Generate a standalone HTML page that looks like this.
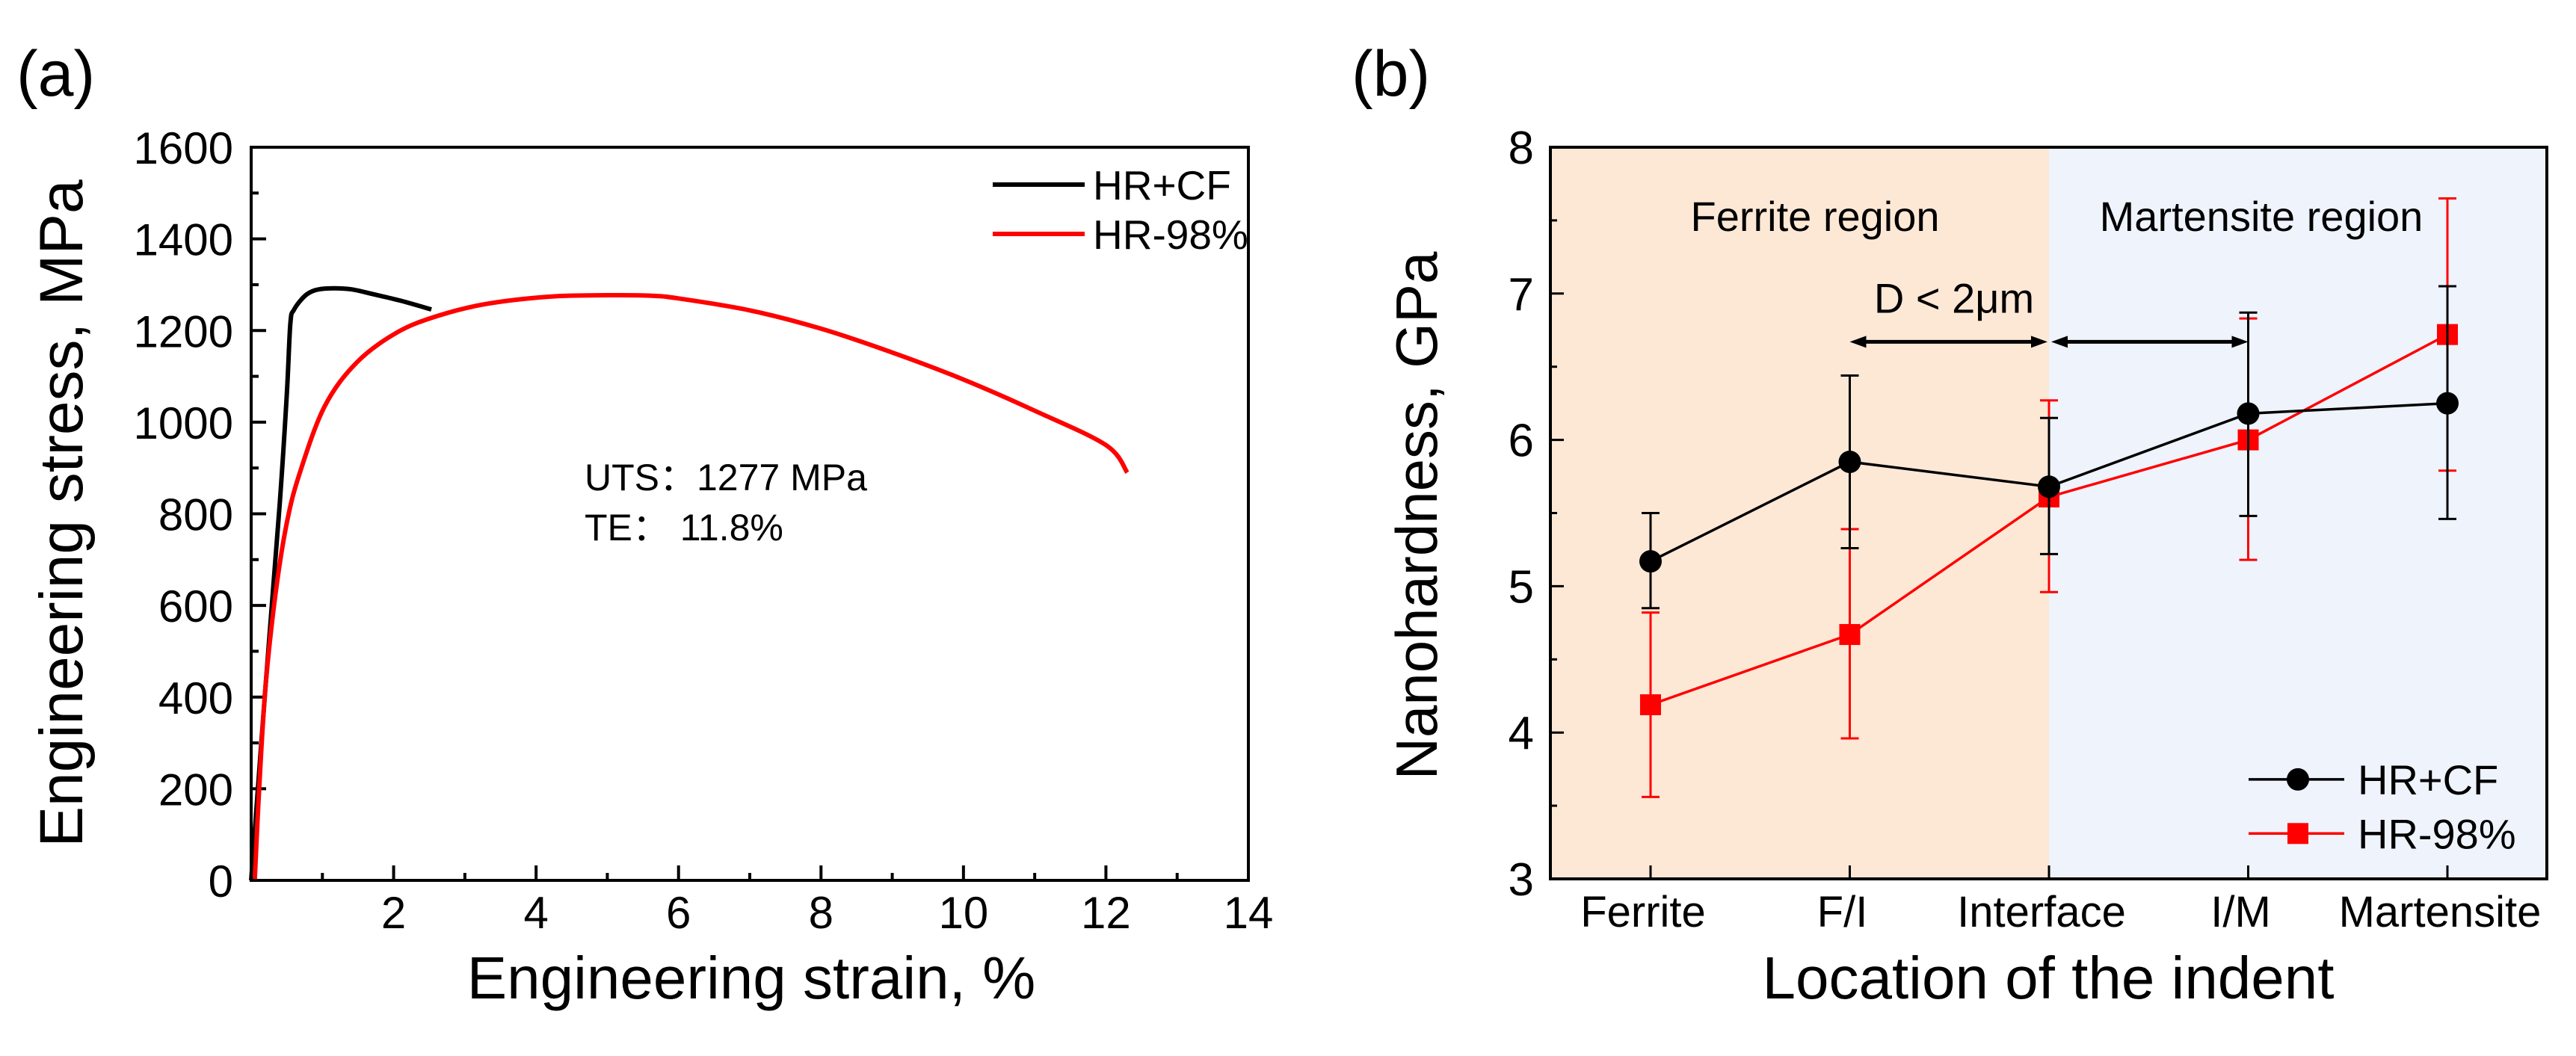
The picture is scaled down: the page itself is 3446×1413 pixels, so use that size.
<!DOCTYPE html>
<html><head><meta charset="utf-8"><style>
html,body{margin:0;padding:0;background:#fff;}
svg{display:block;font-family:"Liberation Sans",Arial,sans-serif;}
</style></head><body>
<svg id="fig" width="3446" height="1413" viewBox="0 0 3446 1413" xmlns="http://www.w3.org/2000/svg">
<g id="chartA"></g>
<g id="chartB"></g>
</svg>
<script>
// ---- Chart (a) data ----
const strainTicks = [2,4,6,8,10,12,14];
const stressTicks = [0,200,400,600,800,1000,1200,1400,1600];
const hrcfStrain = [0,0.2,0.4,0.5,0.55,0.6,0.75,0.9,1.1,1.4,1.72,2.1,2.53];
const hrcfStress = [0,420,820,1060,1215,1245,1275,1288,1292,1290,1279,1265,1246];
const hr98Strain = [0.05,0.11,0.2,0.34,0.5,0.68,1.03,1.48,2.05,2.62,3.3,4.2,5.0,5.6,6.0,7.0,8.0,9.0,10.0,11.0,12.0,12.3];
const hr98Stress = [0,193,420,623,780,888,1034,1130,1196,1232,1258,1274,1277,1276,1270,1244,1204,1152,1093,1025,950,890];
// ---- Chart (b) data ----
const locations = ["Ferrite","F/I","Interface","I/M","Martensite"];
const hardTicks = [3,4,5,6,7,8];
const cfMean = [5.17,5.85,5.68,6.18,6.25];
const cfLow  = [4.85,5.26,5.22,5.48,5.46];
const cfHigh = [5.50,6.44,6.15,6.87,7.05];
const r98Mean = [4.19,4.67,5.61,6.00,6.72];
const r98Low  = [3.56,3.96,4.96,5.18,5.79];
const r98High = [4.82,5.39,6.27,6.83,7.65];

const NS="http://www.w3.org/2000/svg";
function mk(parent,tag,attrs,text){const e=document.createElementNS(NS,tag);for(const k in attrs)e.setAttribute(k,attrs[k]);if(text!==undefined)e.textContent=text;parent.appendChild(e);return e;}

// ===== Chart A =====
const A=document.getElementById('chartA');
const aL=336,aR=1670,aT=197,aB=1178;
const ax=v=>aL+(v/14)*(aR-aL);
const ay=v=>aB-(v/1600)*(aB-aT);
let t;
t=mk(A,'text',{x:22,y:128,'font-size':86});t.textContent='(a)';


for(let v=1;v<14;v++){const major=v%2===0;const l=mk(A,'line',{x1:ax(v),x2:ax(v),y1:aB,y2:aB-(major?20:10),stroke:'#000','stroke-width':4});

}
for(let v=100;v<1600;v+=100){const major=v%200===0;const l=mk(A,'line',{x1:aL,x2:aL+(major?20:10),y1:ay(v),y2:ay(v),stroke:'#000','stroke-width':4});

}
strainTicks.forEach(v=>{const e=mk(A,'text',{x:ax(v),y:1242,'font-size':60,'text-anchor':'middle'},String(v));

});
stressTicks.forEach(v=>{const e=mk(A,'text',{x:312,y:ay(v)+22,'font-size':60,'text-anchor':'end'},String(v));

});
t=mk(A,'text',{x:1005,y:1336,'font-size':80,'text-anchor':'middle'},'Engineering strain, %');


t=mk(A,'text',{x:0,y:0,'font-size':82,'text-anchor':'middle',transform:'translate(110,687) rotate(-90)'},'Engineering stress, MPa');


function smoothPath(xs,ys,fx,fy){const p=xs.map((x,i)=>[fx(x),fy(ys[i])]);let d='M'+p[0][0]+','+p[0][1];
for(let i=0;i<p.length-1;i++){const p0=p[Math.max(i-1,0)],p1=p[i],p2=p[i+1],p3=p[Math.min(i+2,p.length-1)];
const c1=[p1[0]+(p2[0]-p0[0])/6,p1[1]+(p2[1]-p0[1])/6],c2=[p2[0]-(p3[0]-p1[0])/6,p2[1]-(p3[1]-p1[1])/6];
d+=` C${c1[0]},${c1[1]} ${c2[0]},${c2[1]} ${p2[0]},${p2[1]}`;}return d;}
let c=mk(A,'path',{d:smoothPath(hrcfStrain,hrcfStress,ax,ay),fill:'none',stroke:'#000','stroke-width':6});


c=mk(A,'path',{d:smoothPath(hr98Strain,hr98Stress,ax,ay),fill:'none',stroke:'#ff0000','stroke-width':6});


let fr=mk(A,'rect',{x:aL,y:aT,width:aR-aL,height:aB-aT,fill:'none',stroke:'#000','stroke-width':4});


let lg=mk(A,'g',{});


mk(lg,'line',{x1:1328,x2:1451,y1:247,y2:247,stroke:'#000','stroke-width':6});
mk(lg,'text',{x:1462,y:267,'font-size':55},'HR+CF');
mk(lg,'line',{x1:1328,x2:1451,y1:313,y2:313,stroke:'#ff0000','stroke-width':6});
mk(lg,'text',{x:1462,y:333,'font-size':55},'HR-98%');
t=mk(A,'text',{x:782,y:656,'font-size':50},'UTS：1277 MPa');


t=mk(A,'text',{x:782,y:723,'font-size':50},'TE：    11.8%');



// ===== Chart B =====
const B=document.getElementById('chartB');
const bL=2074,bR=3407,bT=197,bB=1176;
const bx=i=>2208+i*266.5;
const by=v=>bB-(v-3)/5*(bB-bT);
t=mk(B,'text',{x:1808,y:128,'font-size':86},'(b)');


let r=mk(B,'rect',{x:bL,y:bT,width:bx(2)-bL,height:bB-bT,fill:'#fde8d6'});


r=mk(B,'rect',{x:bx(2),y:bT,width:bR-bx(2),height:bB-bT,fill:'#eef3fc'});


t=mk(B,'text',{x:2428,y:by(7.53)+20,'font-size':56,'text-anchor':'middle'},'Ferrite region');


t=mk(B,'text',{x:3025,y:by(7.53)+20,'font-size':56,'text-anchor':'middle'},'Martensite region');


t=mk(B,'text',{x:2614,y:by(6.97)+20,'font-size':56,'text-anchor':'middle'},'D < 2μm');


function arrow(x1,x2,y,name){const g=mk(B,'g',{});


mk(g,'line',{x1:x1+14,x2:x2-14,y1:y,y2:y,stroke:'#000','stroke-width':5});
mk(g,'polygon',{points:`${x1},${y} ${x1+22},${y-8} ${x1+22},${y+8}`,fill:'#000'});
mk(g,'polygon',{points:`${x2},${y} ${x2-22},${y-8} ${x2-22},${y+8}`,fill:'#000'});}
arrow(bx(1),bx(2)-2,by(6.67),'arrow-fi-interface');
arrow(bx(2)+3,bx(3),by(6.67),'arrow-interface-im');
locations.forEach((n,i)=>{const l=mk(B,'line',{x1:bx(i),x2:bx(i),y1:bB,y2:bB-18,stroke:'#000','stroke-width':3});


const e=mk(B,'text',{x:bx(i)-10,y:1240,'font-size':58,'text-anchor':'middle'},n);

});
for(let v=3.5;v<8;v+=0.5){const major=Number.isInteger(v);const l=mk(B,'line',{x1:bL,x2:bL+(major?18:9),y1:by(v),y2:by(v),stroke:'#000','stroke-width':3});

}
hardTicks.forEach(v=>{const e=mk(B,'text',{x:2052,y:by(v)+22,'font-size':62,'text-anchor':'end'},String(v));

});
t=mk(B,'text',{x:2740,y:1336,'font-size':80,'text-anchor':'middle'},'Location of the indent');


t=mk(B,'text',{x:0,y:0,'font-size':78,'text-anchor':'middle',transform:'translate(1922,690) rotate(-90)'},'Nanohardness, GPa');


function series(mean,lo,hi,color,name,marker){
const g=mk(B,'g',{});


mean.forEach((m,i)=>{const eb=mk(g,'g',{stroke:color,'stroke-width':3});


mk(eb,'line',{x1:bx(i),x2:bx(i),y1:by(lo[i]),y2:by(hi[i])});
mk(eb,'line',{x1:bx(i)-12,x2:bx(i)+12,y1:by(lo[i]),y2:by(lo[i])});
mk(eb,'line',{x1:bx(i)-12,x2:bx(i)+12,y1:by(hi[i]),y2:by(hi[i])});});
const pl=mk(g,'polyline',{points:mean.map((m,i)=>bx(i)+','+by(m)).join(' '),fill:'none',stroke:color,'stroke-width':3.5});


mean.forEach((m,i)=>{let p;
if(marker==='circle'){p=mk(g,'circle',{cx:bx(i),cy:by(m),r:15,fill:color});}
else{p=mk(g,'rect',{x:bx(i)-14,y:by(m)-14,width:28,height:28,fill:color});}

});}
series(r98Mean,r98Low,r98High,'#ff0000','hr-98-series','square');
series(cfMean,cfLow,cfHigh,'#000','hr-cf-series','circle');
fr=mk(B,'rect',{x:bL,y:bT,width:bR-bL,height:bB-bT,fill:'none',stroke:'#000','stroke-width':4});


lg=mk(B,'g',{});


mk(lg,'line',{x1:3008,x2:3136,y1:by(3.68),y2:by(3.68),stroke:'#000','stroke-width':3.5});
mk(lg,'circle',{cx:3074,cy:by(3.68),r:15,fill:'#000'});
mk(lg,'text',{x:3154,y:by(3.68)+20,'font-size':56},'HR+CF');
mk(lg,'line',{x1:3008,x2:3136,y1:by(3.31),y2:by(3.31),stroke:'#ff0000','stroke-width':3.5});
mk(lg,'rect',{x:3060,y:by(3.31)-14,width:28,height:28,fill:'#ff0000'});
mk(lg,'text',{x:3154,y:by(3.31)+20,'font-size':56},'HR-98%');
</script>
</body></html>
